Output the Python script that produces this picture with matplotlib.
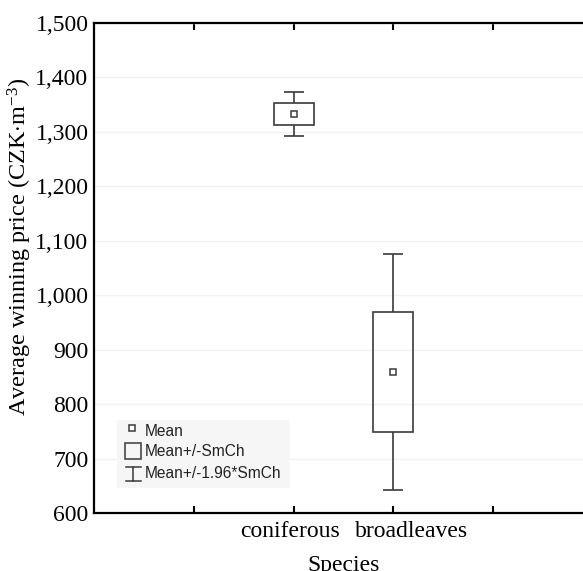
import matplotlib
matplotlib.use("Agg")
import matplotlib.pyplot as plt
from matplotlib.patches import Rectangle
from matplotlib.lines import Line2D
import matplotlib.transforms as mtransforms

# ---- data ----
categories = ["coniferous", "broadleaves"]
cat_pos = [2, 3]
means = [1333, 859]
se = [20.5, 111]
ci_mult = 1.96
yticks = [600, 700, 800, 900, 1000, 1100, 1200, 1300, 1400, 1500]
ytick_labels = ["600", "700", "800", "900", "1,000", "1,100", "1,200", "1,300", "1,400", "1,500"]
legend_labels = ["Mean", "Mean+/-SmCh", "Mean+/-1.96*SmCh"]

plt.rcParams["font.family"] = ["Liberation Serif", "DejaVu Serif"]
plt.rcParams["mathtext.fontset"] = "custom"
plt.rcParams["mathtext.rm"] = "Liberation Serif"
plt.rcParams["mathtext.it"] = "Liberation Serif:italic"

W, H = 583, 571
fig = plt.figure(figsize=(W / 100, H / 100), dpi=100)
ax = fig.add_axes([94 / W, 1 - 513 / H, (593 - 94) / W, (513 - 23) / H])

lc = "#3a3a3a"
box_w = 0.4
cap_w = 0.2
for x, m, s in zip(cat_pos, means, se):
    ax.add_patch(Rectangle((x - box_w / 2, m - s), box_w, 2 * s, fill=False,
                           edgecolor=lc, linewidth=1.2, zorder=3))
    ax.vlines(x, m + s, m + ci_mult * s, color=lc, linewidth=1.2, zorder=3)
    ax.vlines(x, m - ci_mult * s, m - s, color=lc, linewidth=1.2, zorder=3)
    ax.hlines([m + ci_mult * s, m - ci_mult * s], x - cap_w / 2, x + cap_w / 2,
              color=lc, linewidth=1.2, zorder=3)
    ax.plot(x, m, marker="s", markersize=5, markerfacecolor="white",
            markeredgecolor=lc, markeredgewidth=1.1, zorder=4)

ax.set_xlim(0, 5)
ax.set_ylim(600, 1500)
ax.set_yticks(yticks)
ax.set_yticklabels(ytick_labels, fontsize=17)
ax.set_xticks([1, 2, 3, 4])
ax.set_xticklabels(["", categories[0], categories[1], ""], fontsize=17)
ax.tick_params(axis="x", direction="in", length=5, width=1.5, top=True, pad=6, colors="black")
ax.tick_params(axis="y", length=0, pad=4)
ax.yaxis.grid(True, color="#f2f2f2", linewidth=1)
ax.set_axisbelow(True)
for sp in ax.spines.values():
    sp.set_linewidth(1.6)
    sp.set_color("black")

# shift x tick labels slightly as in reference
labs = ax.get_xticklabels()
labs[1].set_transform(labs[1].get_transform() + mtransforms.ScaledTranslation(-4 / 100, 0, fig.dpi_scale_trans))
labs[2].set_transform(labs[2].get_transform() + mtransforms.ScaledTranslation(18 / 100, 0, fig.dpi_scale_trans))

ax.set_ylabel(r"Average winning price (CZK$\cdot$m$^{-3}$)", fontsize=17.5)
ax.yaxis.set_label_coords((34 - 94) / 499, (513 - 247) / 490)
ax.set_xlabel("Species", fontsize=17, labelpad=9)

# ---- legend (manual, Statistica style) ----
def fx(x):
    return x / W

def fy(y):
    return 1 - y / H

fig.add_artist(Rectangle((fx(117), fy(488)), fx(290) - fx(117), fy(420) - fy(488),
                         transform=fig.transFigure, facecolor="#f6f6f6", edgecolor="none", zorder=1))
fig.add_artist(Line2D([fx(132)], [fy(428)], marker="s", markersize=4.5, markerfacecolor="white",
                      markeredgecolor=lc, markeredgewidth=1.1, transform=fig.transFigure, zorder=5))
fig.add_artist(Rectangle((fx(125), fy(459)), fx(141) - fx(125), fy(443) - fy(459),
                         transform=fig.transFigure, fill=False, edgecolor=lc, linewidth=1.1, zorder=5))
fig.add_artist(Line2D([fx(133), fx(133)], [fy(467), fy(481)], color=lc, linewidth=1.1,
                      transform=fig.transFigure, zorder=5))
for yy in (467, 481):
    fig.add_artist(Line2D([fx(126), fx(141)], [fy(yy), fy(yy)], color=lc, linewidth=1.1,
                          transform=fig.transFigure, zorder=5))
for lab, yy in zip(legend_labels, (431, 452, 474)):
    fig.text(fx(145), fy(yy), lab, fontsize=11.2, family=["Liberation Sans", "DejaVu Sans"],
             va="center", ha="left", color="#222222", zorder=6)

fig.savefig("out.png", dpi=100)
